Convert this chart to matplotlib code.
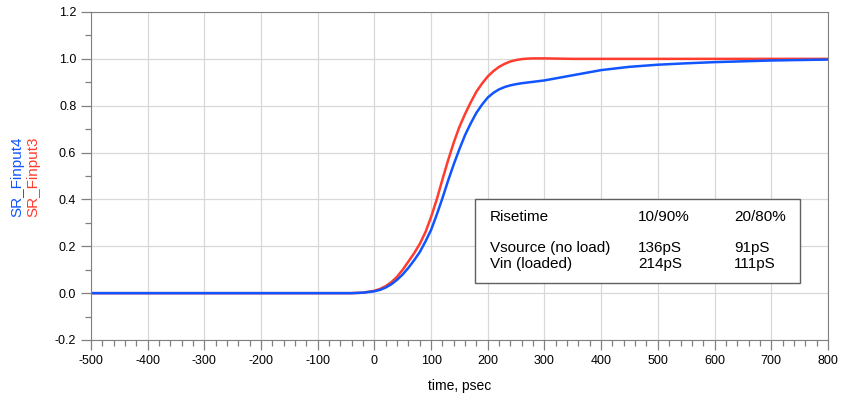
import matplotlib.pyplot as plt
from matplotlib.ticker import MultipleLocator

# time axis (psec) and the two step responses
t_red = [-500, -100, -40, -20, 0, 10, 20, 30, 40, 50, 60, 70, 80, 90, 100,
         110, 120, 130, 140, 150, 160, 170, 180, 190, 200, 210, 220, 230,
         240, 250, 260, 270, 280, 300, 350, 800]
sr_finput3 = [0, 0, 0, 0.002, 0.01, 0.018, 0.03, 0.047, 0.07, 0.1, 0.135,
              0.17, 0.21, 0.26, 0.325, 0.4, 0.485, 0.567, 0.643, 0.71, 0.765,
              0.815, 0.86, 0.895, 0.925, 0.948, 0.966, 0.979, 0.989, 0.995,
              0.999, 1.001, 1.002, 1.002, 1.0, 1.0]

t_blue = [-500, -100, -40, -20, 0, 10, 20, 30, 40, 50, 60, 70, 80, 90, 100,
          110, 120, 130, 140, 150, 160, 170, 180, 190, 200, 210, 220, 230,
          240, 250, 260, 280, 300, 350, 400, 450, 500, 550, 600, 700, 800]
sr_finput4 = [0, 0, 0, 0.002, 0.008, 0.014, 0.024, 0.038, 0.057, 0.08, 0.108,
              0.14, 0.175, 0.22, 0.27, 0.335, 0.405, 0.48, 0.55, 0.615, 0.675,
              0.725, 0.77, 0.805, 0.835, 0.855, 0.87, 0.88, 0.887, 0.892,
              0.896, 0.902, 0.908, 0.93, 0.952, 0.966, 0.975, 0.981, 0.986,
              0.993, 0.997]

table_rows = [["Risetime", "10/90%", "20/80%"],
              ["Vsource (no load)", "136pS", "91pS"],
              ["Vin (loaded)", "214pS", "111pS"]]

plt.rcParams['font.family'] = ['Liberation Sans', 'DejaVu Sans']
plt.rcParams['axes.unicode_minus'] = False

fig = plt.figure(figsize=(8.5, 4), dpi=100)
ax = fig.add_axes([0.107, 0.15, 0.867, 0.82])

red = '#ff3c2e'
blue = '#1055ff'
ax.plot(t_red, sr_finput3, color=red, lw=1.8)
ax.plot(t_blue, sr_finput4, color=blue, lw=1.8)

ax.set_xlim(-500, 800)
ax.set_ylim(-0.2, 1.2)
ax.xaxis.set_major_locator(MultipleLocator(100))
ax.xaxis.set_minor_locator(MultipleLocator(20))
ax.yaxis.set_major_locator(MultipleLocator(0.2))
ax.yaxis.set_minor_locator(MultipleLocator(0.1))
ax.yaxis.set_major_formatter(lambda v, p: f"{v:.1f}")
ax.grid(True, which='major', color='#d8d8d8', lw=0.9)
ax.set_axisbelow(True)
for s in ax.spines.values():
    s.set_color('#808080')
ax.tick_params(which='major', direction='out', length=7, color='#808080',
               labelsize=9, width=0.9)
ax.tick_params(which='minor', direction='out', length=4, color='#808080',
               width=0.9)
ax.set_xlabel("time, psec", fontsize=10, labelpad=9)

fig.text(0.02, 0.557, "SR_Finput4", color=blue, rotation=90, fontsize=11,
         ha='center', va='center')
fig.text(0.039, 0.557, "SR_Finput3", color=red, rotation=90, fontsize=11,
         ha='center', va='center')

# rise time box
box = plt.Rectangle((0.521, 0.174), 0.441, 0.256, transform=ax.transAxes,
                    facecolor='white', edgecolor='#606060', lw=1.0, zorder=3)
ax.add_patch(box)
col_x = [0.541, 0.742, 0.873]
row_y = [0.375, 0.28, 0.232]
for row, y in zip(table_rows, row_y):
    for txt, x in zip(row, col_x):
        ax.text(x, y, txt, transform=ax.transAxes, fontsize=11,
                va='center', ha='left', zorder=4)

fig.savefig("out.png", dpi=100)
